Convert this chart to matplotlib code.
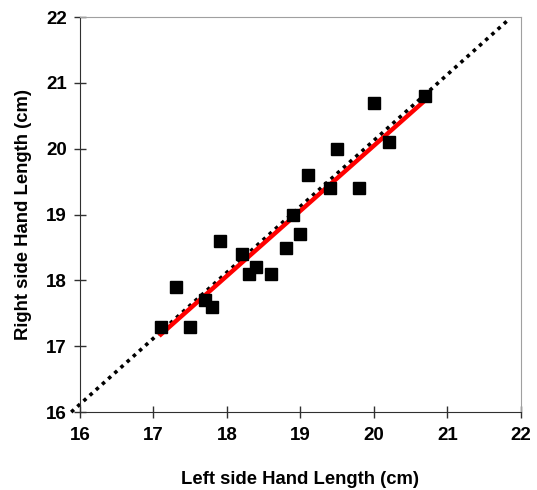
import numpy as np
import matplotlib.pyplot as plt

plt.rcParams['font.family'] = ['Liberation Sans', 'DejaVu Sans']

# left vs right hand length (cm)
left_len = [17.1, 17.3, 17.5, 17.7, 17.8, 17.9, 18.2, 18.3, 18.4, 18.6,
            18.8, 18.9, 19.0, 19.1, 19.4, 19.5, 19.8, 20.0, 20.2, 20.7]
right_len = [17.3, 17.9, 17.3, 17.7, 17.6, 18.6, 18.4, 18.1, 18.2, 18.1,
             18.5, 19.0, 18.7, 19.6, 19.4, 20.0, 19.4, 20.7, 20.1, 20.8]
# trend line (red) and reference line (dotted), endpoints
trend_x = [17.1, 20.7]
trend_y = [17.18, 20.74]
ref_x = [15.88, 21.83]
ref_y = [16.0, 21.96]
ticks = [16, 17, 18, 19, 20, 21, 22]

fig = plt.figure(figsize=(5.37, 4.9), dpi=100)
ax = fig.add_axes([0.149, 0.159, 0.821, 0.806])

ax.plot(ref_x, ref_y, color='black', lw=2.6, ls=(0, (1, 1.3)),
        clip_on=False, zorder=2)
ax.plot(trend_x, trend_y, color='red', lw=3.2, zorder=3)
ax.plot(left_len, right_len, 's', color='black', markersize=8, zorder=4)

ax.set_xlim(16, 22)
ax.set_ylim(16, 22)
ax.set_xticks(ticks)
ax.set_yticks(ticks)
ax.tick_params(direction='inout', length=9, width=1, labelsize=13.5, color='#303030')
ax.tick_params(axis='x', pad=6)
ax.tick_params(axis='y', pad=5)
for lab in ax.get_xticklabels() + ax.get_yticklabels():
    lab.set_fontweight('bold')
for s in ['top', 'right']:
    ax.spines[s].set_color('#a0a0a0')
for s in ['left', 'bottom']:
    ax.spines[s].set_color('#303030')

ax.set_xlabel('Left side Hand Length (cm)', fontsize=13.3, fontweight='bold', labelpad=20)
ax.set_ylabel('Right side Hand Length (cm)', fontsize=13.3, fontweight='bold', labelpad=10)

fig.savefig('out.png', dpi=100)
